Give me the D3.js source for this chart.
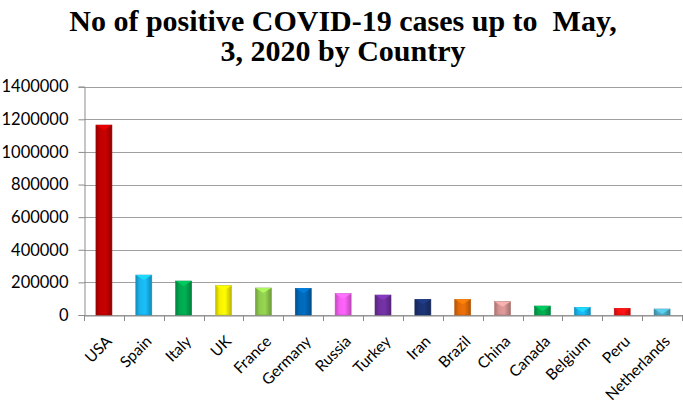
<!DOCTYPE html>
<html><head><meta charset="utf-8">
<script src="https://cdn.jsdelivr.net/npm/d3@7"></script>
<style>html,body{margin:0;padding:0;background:#fff;}svg{display:block;}</style>
</head><body>
<svg id="chart" width="683" height="407"></svg>
<script>
const countries = ["USA","Spain","Italy","UK","France","Germany","Russia","Turkey","Iran","Brazil","China","Canada","Belgium","Peru","Netherlands"];
const cases = [1165000,245000,208500,180000,165600,163500,131000,122600,96100,96100,81800,55200,47000,40900,36800];
const colors = ["#c00000","#19b5ee","#00a84f","#f5f000","#8fcc4e","#0068b8","#f55ef0","#7030a0","#1b3271","#e36c09","#d49391","#00a84f","#19b5ee","#f01010","#4bacc6"];
const yTicks = [0,200000,400000,600000,800000,1000000,1200000,1400000];
const titleLines = ["No of positive COVID-19 cases up to  May,", "3, 2020 by Country"];

const svg = d3.select("#chart");
const x = d3.scaleBand().domain(countries).range([84, 682]).paddingInner(0).paddingOuter(0);
const y = d3.scaleLinear().domain([0, 1400000]).range([315, 86.7]);
const font = "Lato, 'Open Sans', sans-serif";

// title
svg.append("g").selectAll("text").data(titleLines).join("text")
  .attr("x", 343).attr("y", (d,i) => 31 + i*30)
  .attr("text-anchor", "middle")
  .style("white-space", "pre")
  .attr("font-family", "'Liberation Serif','Times New Roman',serif")
  .attr("font-weight", "bold").attr("font-size", 30)
  .attr("fill", "#000").text(d => d);

// gridlines
svg.append("g").selectAll("line").data(yTicks).join("line")
  .attr("x1", 84).attr("x2", 682)
  .attr("y1", d => Math.round(y(d)) + 0.5).attr("y2", d => Math.round(y(d)) + 0.5)
  .attr("stroke", "#a0a0a0").attr("stroke-width", 1.2);

// y axis
const yAxis = svg.append("g").attr("transform", "translate(84.5,0)")
  .call(d3.axisLeft(y).tickValues(yTicks).tickFormat(d3.format("d")).tickSize(6).tickPadding(10));
yAxis.select(".domain").attr("stroke", "#8c8c8c");
yAxis.selectAll(".tick line").attr("stroke", "#8c8c8c");
yAxis.selectAll("text").attr("font-family", font).attr("font-size", 16.5).attr("fill", "#000");

// x axis
const xAxis = svg.append("g").attr("transform", "translate(0,315.5)")
  .call(d3.axisBottom(x).tickSize(0).tickFormat(d => d));
xAxis.select(".domain").attr("stroke", "#8c8c8c");
xAxis.selectAll(".tick line").remove();
svg.append("g").selectAll("line").data(d3.range(countries.length + 1)).join("line")
  .attr("x1", i => Math.round(x.range()[0] + i*x.step()) + 0.5)
  .attr("x2", i => Math.round(x.range()[0] + i*x.step()) + 0.5)
  .attr("y1", 315).attr("y2", 321)
  .attr("stroke", "#8c8c8c");
xAxis.selectAll(".tick text")
  .attr("font-family", font).attr("font-size", 15.5).attr("fill", "#000")
  .attr("text-anchor", "end")
  .attr("x", 0).attr("y", 0).attr("dy", "0.35em")
  .attr("transform", "translate(5,23) rotate(-45)");

// gradients for bars
const defs = svg.append("defs");
colors.forEach((c, i) => {
  const base = d3.color(c);
  const g = defs.append("linearGradient").attr("id", "g" + i).attr("x1", "0").attr("x2", "1").attr("y1", "0").attr("y2", "0");
  g.append("stop").attr("offset", "0%").attr("stop-color", base.darker(0.7));
  g.append("stop").attr("offset", "25%").attr("stop-color", base);
  g.append("stop").attr("offset", "60%").attr("stop-color", base.brighter(0.15));
  g.append("stop").attr("offset", "100%").attr("stop-color", base.darker(0.8));
});

const bw = 16;
const bars = svg.append("g").selectAll("g").data(countries).join("g");
bars.append("rect")
  .attr("x", d => x(d) + x.bandwidth()/2 - bw/2)
  .attr("y", (d,i) => y(cases[i]))
  .attr("width", bw)
  .attr("height", (d,i) => y(0) - y(cases[i]))
  .attr("fill", (d,i) => `url(#g${i})`)
  .attr("stroke", (d,i) => d3.color(colors[i]).darker(0.6))
  .attr("stroke-width", 0.6);
bars.append("path")
  .attr("d", (d,i) => {
    const x0 = x(d) + x.bandwidth()/2 - bw/2, y0 = y(cases[i]);
    return `M${x0},${y0}L${x0+bw},${y0}L${x0+bw/2},${y0+5}Z`;
  })
  .attr("fill", (d,i) => d3.color(colors[i]).brighter(0.6))
  .attr("opacity", 0.85);
</script>
</body></html>
